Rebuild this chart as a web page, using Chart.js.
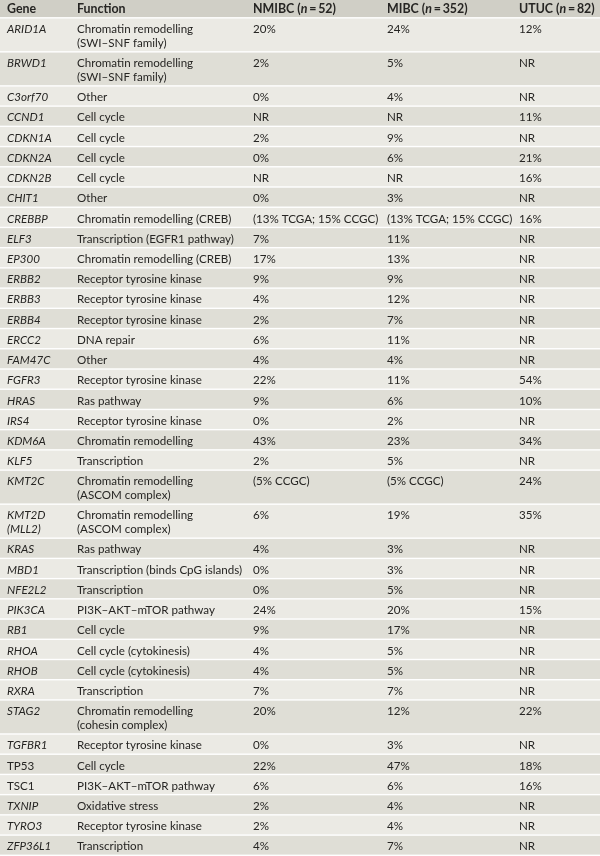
<!DOCTYPE html>
<html>
<head>
<meta charset="utf-8">
<script src="https://cdn.jsdelivr.net/npm/chart.js@4.4.1/dist/chart.umd.min.js"></script>
<style>
  html, body { margin: 0; padding: 0; background: #ffffff; }
  #wrap { width: 600px; height: 856px; }
</style>
</head>
<body>
<div id="wrap"><canvas id="c" width="600" height="856"></canvas></div>
<script>
// ---- data ----
const headers = ['Gene', 'Function', 'NMIBC (n = 52)', 'MIBC (n = 352)', 'UTUC (n = 82)'];
const genes = ['ARID1A','BRWD1','C3orf70','CCND1','CDKN1A','CDKN2A','CDKN2B','CHIT1','CREBBP','ELF3','EP300','ERBB2','ERBB3','ERBB4','ERCC2','FAM47C','FGFR3','HRAS','IRS4','KDM6A','KLF5','KMT2C','KMT2D\n(MLL2)','KRAS','MBD1','NFE2L2','PIK3CA','RB1','RHOA','RHOB','RXRA','STAG2','TGFBR1','TP53','TSC1','TXNIP','TYRO3','ZFP36L1'];
const functions = ['Chromatin remodelling\n(SWI–SNF family)','Chromatin remodelling\n(SWI–SNF family)','Other','Cell cycle','Cell cycle','Cell cycle','Cell cycle','Other','Chromatin remodelling (CREB)','Transcription (EGFR1 pathway)','Chromatin remodelling (CREB)','Receptor tyrosine kinase','Receptor tyrosine kinase','Receptor tyrosine kinase','DNA repair','Other','Receptor tyrosine kinase','Ras pathway','Receptor tyrosine kinase','Chromatin remodelling','Transcription','Chromatin remodelling\n(ASCOM complex)','Chromatin remodelling\n(ASCOM complex)','Ras pathway','Transcription (binds CpG islands)','Transcription','PI3K–AKT–mTOR pathway','Cell cycle','Cell cycle (cytokinesis)','Cell cycle (cytokinesis)','Transcription','Chromatin remodelling\n(cohesin complex)','Receptor tyrosine kinase','Cell cycle','PI3K–AKT–mTOR pathway','Oxidative stress','Receptor tyrosine kinase','Transcription'];
const nmibc = ['20%','2%','0%','NR','2%','0%','NR','0%','(13% TCGA; 15% CCGC)','7%','17%','9%','4%','2%','6%','4%','22%','9%','0%','43%','2%','(5% CCGC)','6%','4%','0%','0%','24%','9%','4%','4%','7%','20%','0%','22%','6%','2%','2%','4%'];
const mibc = ['24%','5%','4%','NR','9%','6%','NR','3%','(13% TCGA; 15% CCGC)','11%','13%','9%','12%','7%','11%','4%','11%','6%','2%','23%','5%','(5% CCGC)','19%','3%','3%','5%','20%','17%','5%','5%','7%','12%','3%','47%','6%','4%','4%','7%'];
const utuc = ['12%','NR','NR','11%','NR','21%','16%','NR','16%','NR','NR','NR','NR','NR','NR','NR','54%','10%','NR','34%','NR','24%','35%','NR','NR','NR','15%','NR','NR','NR','NR','22%','NR','18%','16%','NR','NR','NR'];

// ---- layout / style ----
const columns = [genes, functions, nmibc, mibc, utuc];
const colX = [7, 77, 253, 387, 519];
const uprightGenes = ['TP53', 'TSC1'];
const HEADER_H = 18.5, PAD = 6.4, LINE_H = 13.8, GAP = 1.4;
const FONT = 'Lato, "Open Sans", sans-serif';
const SIZE = 11.6, HEAD_SIZE = 12.4;
const TEXT = '#262523', HEAD_BG = '#d0cfc6', ROW_A = '#ebeae4', ROW_B = '#dfded6';

const rowLines = genes.map((g, i) => Math.max(...columns.map(c => c[i].split('\n').length)));
const rowTops = [];
let acc = HEADER_H;
rowLines.forEach(n => { rowTops.push(acc); acc += PAD + LINE_H * n; });
const TOTAL = acc;

const tablePlugin = {
  id: 'table',
  beforeDraw(chart) {
    const ctx = chart.ctx, xs = chart.scales.x, ys = chart.scales.y;
    const left = xs.getPixelForValue(0), right = xs.getPixelForValue(600);
    ctx.save();
    ctx.fillStyle = '#ffffff';
    ctx.fillRect(0, 0, chart.width, chart.height);
    // header
    ctx.fillStyle = HEAD_BG;
    ctx.fillRect(left, ys.getPixelForValue(0), right - left, ys.getPixelForValue(HEADER_H - GAP) - ys.getPixelForValue(0));
    ctx.fillStyle = TEXT;
    ctx.textBaseline = 'alphabetic';
    const hy = ys.getPixelForValue(13.3);
    const bold = 'bold ' + HEAD_SIZE + 'px ' + FONT;
    headers.forEach((h, c) => {
      let x = xs.getPixelForValue(colX[c]);
      const m = h.match(/^(.*\()n = (\d+\))$/);
      ctx.font = bold;
      if (m) {
        ctx.fillText(m[1], x, hy); x += ctx.measureText(m[1]).width;
        ctx.font = 'italic ' + bold;
        ctx.fillText('n', x, hy); x += ctx.measureText('n').width + 1.8;
        ctx.font = bold;
        ctx.fillText('=', x, hy); x += ctx.measureText('=').width + 1.8;
        ctx.fillText(m[2], x, hy);
      } else {
        ctx.fillText(h, x, hy);
      }
    });
    // rows
    genes.forEach((g, i) => {
      const top = rowTops[i];
      const bottom = top + PAD + LINE_H * rowLines[i];
      const py0 = ys.getPixelForValue(top), py1 = ys.getPixelForValue(bottom - GAP);
      ctx.fillStyle = i % 2 === 0 ? ROW_A : ROW_B;
      ctx.fillRect(left, py0, right - left, py1 - py0);
      ctx.fillStyle = TEXT;
      columns.forEach((col, c) => {
        const italic = c === 0 && !uprightGenes.includes(g);
        ctx.font = (italic ? 'italic ' : '') + SIZE + 'px ' + FONT;
        col[i].split('\n').forEach((line, k) => {
          ctx.fillText(line, xs.getPixelForValue(colX[c]), ys.getPixelForValue(top + 14.6 + k * LINE_H));
        });
      });
    });
    ctx.restore();
  }
};

new Chart(document.getElementById('c'), {
  type: 'scatter',
  data: {
    datasets: [{
      label: 'rows',
      data: genes.map((g, i) => ({ x: 0, y: rowTops[i] })),
      pointRadius: 0,
      pointHoverRadius: 0
    }]
  },
  options: {
    responsive: false,
    animation: false,
    devicePixelRatio: 1,
    layout: { padding: 0 },
    events: [],
    plugins: { legend: { display: false }, tooltip: { enabled: false } },
    scales: {
      x: { type: 'linear', min: 0, max: 600, display: false },
      y: { type: 'linear', min: 0, max: TOTAL, reverse: true, display: false }
    }
  },
  plugins: [tablePlugin]
});
</script>
</body>
</html>
